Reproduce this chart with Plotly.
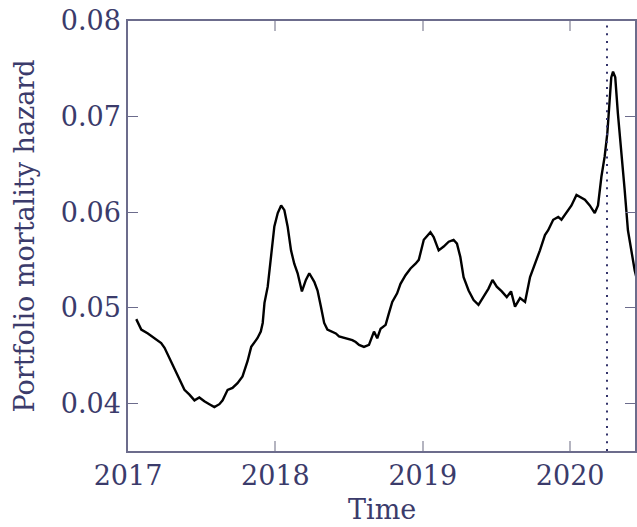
import plotly.graph_objects as go

# Portfolio mortality hazard over time (decimal years)
years = [
    2017.056, 2017.090, 2017.135, 2017.180, 2017.225, 2017.248, 2017.282, 2017.316,
    2017.349, 2017.383, 2017.417, 2017.451, 2017.484, 2017.518, 2017.552, 2017.586,
    2017.620, 2017.642, 2017.676, 2017.709, 2017.743, 2017.777, 2017.811, 2017.836,
    2017.878, 2017.901, 2017.914, 2017.926, 2017.948, 2017.971, 2017.993, 2018.016,
    2018.039, 2018.061, 2018.083, 2018.106, 2018.128, 2018.151, 2018.180, 2018.207,
    2018.230, 2018.264, 2018.286, 2018.309, 2018.331, 2018.353, 2018.410, 2018.432,
    2018.478, 2018.522, 2018.545, 2018.568, 2018.601, 2018.635, 2018.669, 2018.691,
    2018.714, 2018.748, 2018.770, 2018.793, 2018.826, 2018.849, 2018.883, 2018.917,
    2018.951, 2018.973, 2019.007, 2019.052, 2019.074, 2019.108, 2019.142, 2019.176,
    2019.209, 2019.232, 2019.255, 2019.277, 2019.311, 2019.345, 2019.378, 2019.412,
    2019.446, 2019.473, 2019.502, 2019.536, 2019.570, 2019.599, 2019.626, 2019.660,
    2019.694, 2019.728, 2019.761, 2019.795, 2019.829, 2019.851, 2019.885, 2019.919,
    2019.941, 2019.975, 2020.009, 2020.043, 2020.066, 2020.100, 2020.133, 2020.167,
    2020.189, 2020.212, 2020.234, 2020.252, 2020.268, 2020.279, 2020.291, 2020.306,
    2020.324, 2020.347, 2020.370, 2020.392, 2020.415, 2020.438, 2020.460,
]
hazard = [
    0.0488, 0.0477, 0.0473, 0.0468, 0.0463, 0.0458, 0.0447, 0.0437,
    0.0426, 0.0414, 0.0409, 0.0403, 0.0406, 0.0402, 0.0399, 0.0396,
    0.0399, 0.0403, 0.0414, 0.0416, 0.0421, 0.0428, 0.0444, 0.0459,
    0.0468, 0.0475, 0.0484, 0.0505, 0.0522, 0.0553, 0.0585, 0.0599,
    0.0607, 0.0602, 0.0585, 0.0560, 0.0546, 0.0536, 0.0517, 0.0529,
    0.0536, 0.0527, 0.0518, 0.0501, 0.0484, 0.0477, 0.0473, 0.0470,
    0.0468, 0.0466, 0.0464, 0.0461, 0.0459, 0.0461, 0.0475, 0.0468,
    0.0478, 0.0482, 0.0494, 0.0506, 0.0515, 0.0525, 0.0534, 0.0541,
    0.0546, 0.0550, 0.0571, 0.0579, 0.0574, 0.0560, 0.0564, 0.0569,
    0.0571, 0.0567, 0.0553, 0.0532, 0.0518, 0.0508, 0.0503, 0.0511,
    0.0520, 0.0529, 0.0522, 0.0517, 0.0511, 0.0517, 0.0501, 0.0510,
    0.0506, 0.0532, 0.0545, 0.0560, 0.0576, 0.0581, 0.0592, 0.0595,
    0.0592, 0.0599, 0.0607, 0.0618, 0.0616, 0.0613, 0.0607, 0.0599,
    0.0607, 0.0637, 0.0658, 0.0682, 0.0717, 0.0741, 0.0747, 0.0741,
    0.0703, 0.0665, 0.0623, 0.0581, 0.0560, 0.0539, 0.0525,
]

event_year = 2020.25
x_ticks = [2017, 2018, 2019, 2020]
x_tick_labels = ["2017", "2018", "2019", "2020"]
y_ticks = [0.04, 0.05, 0.06, 0.07, 0.08]
y_tick_labels = ["0.04", "0.05", "0.06", "0.07", "0.08"]
x_title = "Time"
y_title = "Portfolio mortality hazard"

text_color = "#3b3b6b"
axis_color = "#6c6c8c"
font_family = "DejaVu Serif, Liberation Serif, serif"
font_size = 27

fig = go.Figure()
fig.add_trace(go.Scatter(
    x=years, y=hazard, mode="lines",
    line=dict(color="black", width=2.4),
    showlegend=False, hoverinfo="skip",
))

# dotted marker for the event date
fig.add_shape(
    type="line", xref="x", yref="paper",
    x0=event_year, x1=event_year, y0=0, y1=1,
    line=dict(color="#33336a", width=2, dash="2px,5.7px"),
)

# axis titles placed as paper annotations
fig.add_annotation(
    text=y_title, xref="paper", yref="paper", x=-0.206, y=0.5,
    xanchor="center", yanchor="middle", textangle=-90, showarrow=False,
    font=dict(size=font_size, color=text_color, family=font_family),
)
fig.add_annotation(
    text=x_title, xref="paper", yref="paper", x=0.5, y=-0.137,
    xanchor="center", yanchor="middle", showarrow=False,
    font=dict(size=font_size, color=text_color, family=font_family),
)

fig.update_layout(
    width=637, height=527,
    margin=dict(l=128, r=0, t=21, b=76),
    paper_bgcolor="white", plot_bgcolor="white",
    font=dict(family=font_family, color=text_color, size=font_size),
)
fig.update_xaxes(
    range=[2017, 2020.44],
    tickmode="array", tickvals=x_ticks, ticktext=x_tick_labels,
    ticks="inside", ticklen=10, tickwidth=1.5, tickcolor="#b4b4c0",
    showline=True, linecolor=axis_color, linewidth=1.5, mirror="ticks",
    showgrid=False, zeroline=False,
    tickfont=dict(size=font_size, color=text_color),
)
fig.update_yaxes(
    range=[0.035, 0.08],
    tickmode="array", tickvals=y_ticks, ticktext=y_tick_labels,
    ticks="inside", ticklen=10, tickwidth=1, tickcolor=axis_color,
    showline=True, linecolor=axis_color, linewidth=1.5, mirror="ticks",
    showgrid=False, zeroline=False,
    tickfont=dict(size=font_size, color=text_color),
)

fig.write_html("out.html")
